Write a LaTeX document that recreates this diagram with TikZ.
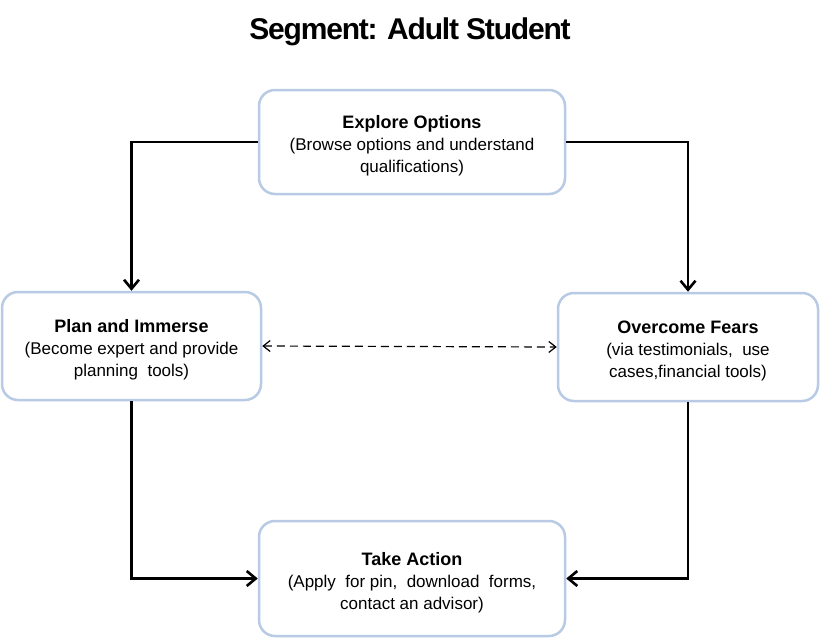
\documentclass[tikz,border=0pt]{standalone}
\usepackage{fontspec}
\setmainfont{Liberation Sans}
\usetikzlibrary{arrows.meta}
\definecolor{boxblue}{RGB}{184,202,228}
\newcommand{\topstrut}{\rule{0pt}{21.5pt}}
\tikzset{
  stagebox/.style={draw=boxblue, line width=2.5pt, rounded corners=16pt, fill=white,
    align=center, inner sep=0pt, font=\fontsize{17}{22}\selectfont},
  flow/.style={draw=black, line width=2.6pt, -{Straight Barb[length=9pt,width=15pt]}},
  dashlink/.style={draw=black, line width=1.2pt, dash pattern=on 8pt off 5pt,
    {Straight Barb[length=7pt,width=11pt]}-{Straight Barb[length=7pt,width=11pt]}},
}
\begin{document}
\begin{tikzpicture}[x=1pt,y=-1pt]
\useasboundingbox[fill=white] (0,0) rectangle (820,638);
\node[anchor=base, font=\fontsize{30}{30}\selectfont\addfontfeature{LetterSpace=-4}\bfseries] (title) at (410,39) {Segment: Adult Student};
\node[stagebox, minimum width=306pt, minimum height=104pt] (ex) at (412,142)
  {\topstrut\fontsize{18}{22}\selectfont\bfseries Explore Options\\(Browse options and understand\\qualifications)};
\node[stagebox, minimum width=259pt, minimum height=108pt] (pl) at (131.5,346)
  {\topstrut\fontsize{18}{22}\selectfont\bfseries Plan and Immerse\\(Become expert and provide\\planning\ \ tools)};
\node[stagebox, minimum width=260pt, minimum height=108pt] (ov) at (688,347)
  {\topstrut\fontsize{18}{22}\selectfont\bfseries Overcome Fears\\(via testimonials,\ \ use\\cases,financial tools)};
\node[stagebox, minimum width=306pt, minimum height=115pt] (ta) at (412,578.5)
  {\topstrut\fontsize{18}{22}\selectfont\bfseries Take Action\\(Apply\ \ for pin,\ \ download\ \ forms,\\contact an advisor)};
\draw[flow] (ex.west) -| (pl.north);
\draw[flow] (ex.east) -| (ov.north);
\draw[flow] (pl.south) |- (ta.west);
\draw[flow] (ov.south) |- (ta.east);
\draw[dashlink] (pl.east) -- (ov.west);
\end{tikzpicture}
\end{document}
